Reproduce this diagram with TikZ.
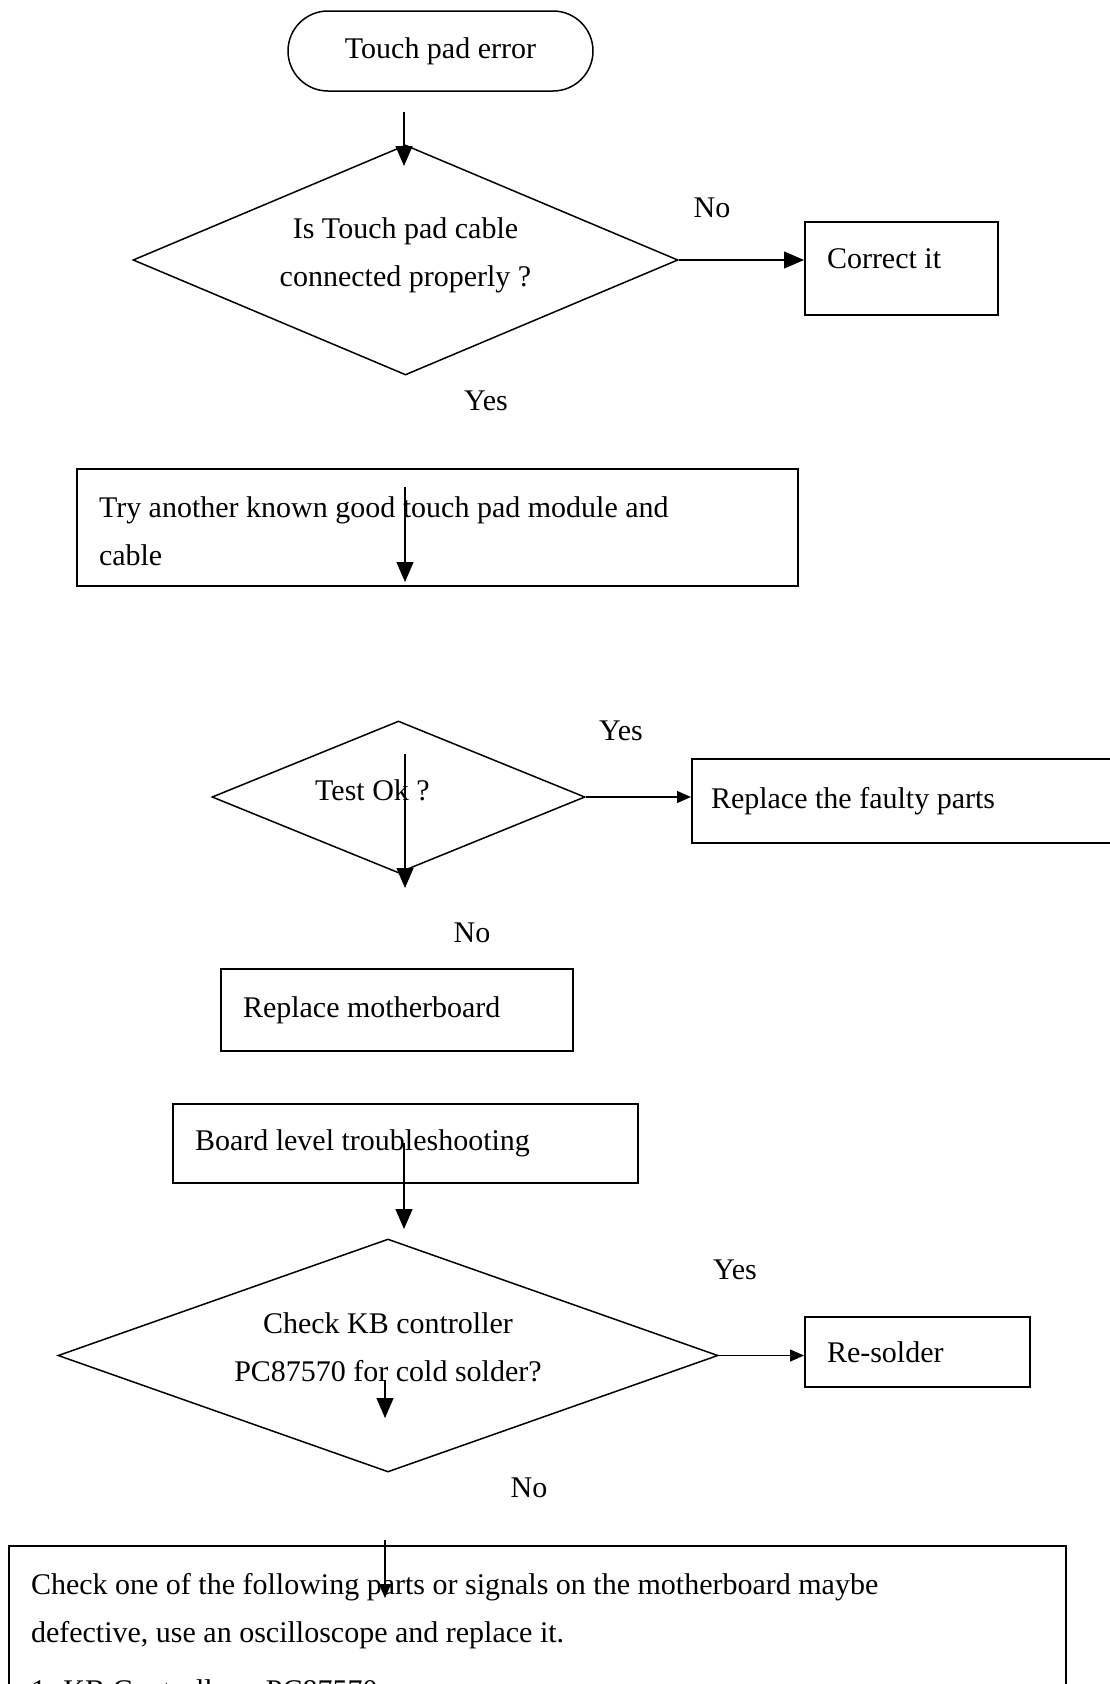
\documentclass[tikz,border=0pt]{standalone}
\usepackage{fontspec}
\setmainfont{Liberation Serif}
\usetikzlibrary{shapes.geometric,arrows.meta}

\begin{document}
\begin{tikzpicture}[x=1pt,y=-1pt,font=\fontsize{30}{48}\selectfont,
        box/.style={draw,line width=2pt,inner xsep=22pt,align=flush left},
        dia/.style={draw,diamond,line width=1.5pt,inner sep=0pt,align=center},
        lab/.style={inner sep=0pt},
        flow/.style={line width=1.2pt,-{Triangle[width=17pt,length=20pt]}},
        flowsmall/.style={line width=1.2pt,-{Triangle[width=12pt,length=14pt]}}]
            \useasboundingbox (0,0) rectangle (1110,1684);
            \clip (0,0) rectangle (1110,1684);

            % shapes
            \node[draw,line width=1.5pt,rounded corners=40pt,minimum width=305pt,minimum height=80pt] (start) at (440.5,51) {Touch pad error};
            \node[dia,aspect=2.37,text depth=15pt,minimum width=545pt,minimum height=230pt] (cable) at (405.5,260) {Is Touch pad cable\\connected properly ?};
            \node[box,text width=149pt,text depth=20pt,minimum width=193pt,minimum height=93pt] (correct) at (901.5,268.5) {Correct it};
            \node[box,text width=677pt,text height=29pt,minimum width=721pt,minimum height=117pt] (swap) at (437.5,527.5) {Try another known good touch pad module and\\cable};
            \node[dia,aspect=2.45,minimum width=373pt,minimum height=152pt] (test) at (398.5,797) {};
            \node[lab,anchor=base west] (testtxt) at (315,800) {Test Ok ?};
            \node[box,inner xsep=19pt,text width=470pt,minimum width=508pt,minimum height=84pt] (faulty) at (946,801) {Replace the faulty parts};
            \node[box,text width=308pt,minimum width=352pt,minimum height=82pt] (mobo) at (397,1010) {Replace motherboard};
            \node[box,text width=421pt,minimum width=465pt,minimum height=79pt] (board) at (405.5,1143.5) {Board level troubleshooting};
            \node[dia,aspect=2.83,minimum width=660pt,minimum height=233pt] (kbc) at (388,1355.5) {};
            \node[lab,anchor=north,align=center] (kbctxt) at (388,1312) {Check KB controller\\PC87570 for cold solder?};
            \node[box,text width=181pt,minimum width=225pt,minimum height=70pt] (resolder) at (917.5,1352) {Re-solder};
            \node[box,anchor=north west,inner ysep=27.5pt,text width=1013pt] (parts) at (8,1545) {Check one of the following parts or signals on the motherboard maybe\\defective, use an oscilloscope and replace it.\\[10pt]1. KB Controller -- PC87570};

            % answers
            \node (no1) at (712,208) {No};
            \node (yes1) at (486,401) {Yes};
            \node (yes2) at (621,731) {Yes};
            \node (no2) at (472,933) {No};
            \node (yes3) at (735,1270) {Yes};
            \node (no3) at (529,1488) {No};

            % arrows
            \coordinate (c1) at (404,112);
            \coordinate (c2) at (404,166);
            \coordinate (c3) at (405,487);
            \coordinate (c4) at (405,582);
            \coordinate (c5) at (405,754);
            \coordinate (c6) at (405,888);
            \coordinate (c7) at (404,1143);
            \coordinate (c8) at (404,1229);
            \coordinate (c9) at (385,1380);
            \coordinate (c10) at (385,1418);
            \coordinate (c11) at (385,1540);
            \coordinate (c12) at (385,1598);
            \draw[flow] (c1) -- (c2);
            \draw[flow] (cable.east) -- (cable.east -| correct.west);
            \draw[flow] (c3) -- (c4);
            \draw[flowsmall] (test.east) -- (test.east -| faulty.west);
            \draw[flow] (c5) -- (c6);
            \draw[flow] (c7) -- (c8);
            \draw[flowsmall] (kbc.east) -- (kbc.east -| resolder.west);
            \draw[flow] (c9) -- (c10);
            \draw[flowsmall] (c11) -- (c12);
        \end{tikzpicture}
\end{document}
